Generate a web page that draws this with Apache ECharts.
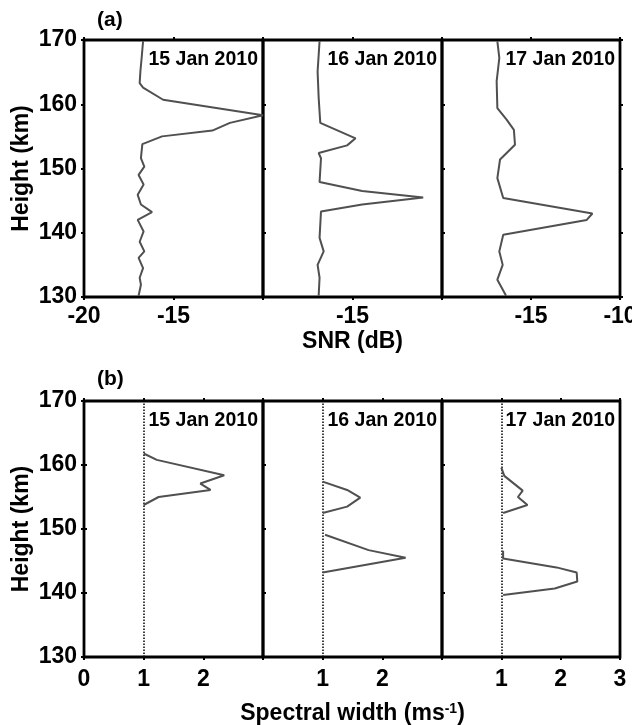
<!DOCTYPE html>
<html>
<head>
<meta charset="utf-8">
<title>SNR and spectral width profiles</title>
<script src="https://cdn.jsdelivr.net/npm/echarts@6/dist/echarts.min.js"></script>
<style>
  html, body { margin: 0; padding: 0; background: #fff; }
  #chart { width: 632px; height: 725px; }
</style>
</head>
<body>
<div id="chart"></div>
<script>
// Radar echo profiles for three nights: SNR (a) and spectral width (b) versus height.
const days = ['15 Jan 2010', '16 Jan 2010', '17 Jan 2010'];

// Height axis (km)
const heightMin = 130;
const heightMax = 170;
const heightStep = 10;

// SNR axis (dB), repeated in each panel, and the tick labels each panel shows
const snrMin = -20;
const snrMax = -10;
const snrStep = 5;
const snrTickLabels = [['-20', '-15'], ['-15'], ['-15', '-10']];

// Spectral width axis (m/s), repeated in each panel, and the tick labels each panel shows
const swMin = 0;
const swMax = 3;
const swStep = 1;
const swTickLabels = [['0', '1', '2'], ['1', '2'], ['1', '2', '3']];
const swReference = 1;

// SNR profiles (dB) against height (km)
const snrHeight15 = [169.8, 167.2, 165.1, 163.3, 162.6, 160.7, 158.3, 157.1, 155.9, 155.0, 153.8, 151.6, 150.3, 149.0, 147.5, 145.9, 144.4, 143.2, 142.0, 140.2, 138.6, 137.1, 136.1, 134.5, 133.0, 131.9, 130.2];
const snrValue15  = [-16.70, -16.78, -16.85, -16.89, -16.70, -15.58, -10.0, -11.85, -12.83, -15.64, -16.74, -16.82, -16.63, -16.95, -16.67, -17.0, -16.82, -16.2, -17.0, -16.67, -16.89, -16.63, -16.95, -16.70, -16.89, -16.82, -16.95];

const snrHeight16 = [169.8, 165.1, 161.0, 157.1, 154.7, 153.6, 152.4, 151.6, 147.9, 146.5, 145.5, 144.4, 143.3, 139.2, 137.1, 135.0, 133.0, 130.2];
const snrValue16  = [-16.84, -16.95, -16.89, -16.80, -14.83, -15.30, -16.89, -16.76, -16.84, -14.46, -11.05, -14.46, -16.76, -16.84, -16.61, -16.95, -16.84, -16.89];

const snrHeight17 = [169.8, 167.2, 163.6, 159.4, 157.6, 156.0, 153.7, 151.4, 148.5, 145.4, 143.0, 142.0, 139.7, 137.1, 135.0, 132.7, 130.2];
const snrValue17  = [-16.89, -16.78, -16.93, -16.89, -16.37, -15.96, -15.90, -16.74, -16.89, -16.56, -11.55, -11.87, -16.56, -16.78, -16.59, -16.89, -16.40];

// Spectral width profiles (m/s) against height (km); null leaves a gap
const swHeight15 = [161.8, 160.8, 158.4, 157.1, 156.1, 155.0, 153.75];
const swValue15  = [1.0, 1.22, 2.35, 1.95, 2.12, 1.25, 1.0];

const swHeight16 = [157.4, 156.1, 154.9, 153.5, 152.5, 150.8, 149.1, 146.7, 145.5, 143.2];
const swValue16  = [1.0, 1.41, 1.63, 1.41, 1.0, null, 1.04, 1.77, 2.39, 1.0];

const swHeight17 = [159.6, 158.3, 156.0, 155.0, 153.75, 152.5, 149.5, 146.6, 145.4, 144.0, 143.2, 141.8, 140.7, 139.7];
const swValue17  = [1.0, 1.05, 1.36, 1.28, 1.44, 1.03, null, 1.03, 1.03, 1.93, 2.27, 2.28, 1.90, 1.03];

const snrProfiles = [[snrHeight15, snrValue15], [snrHeight16, snrValue16], [snrHeight17, snrValue17]];
const swProfiles  = [[swHeight15, swValue15], [swHeight16, swValue16], [swHeight17, swValue17]];

// Layout
const FONT = '"Liberation Sans", Arial, Helvetica, sans-serif';
const panelLeft = 84;
const panelWidth = 179;
const lastPanelWidth = 178;
const rowTop = [40, 401];
const rowHeight = [257, 256];
const curveColor = '#505050';
const labelSize = 23;

function pairs(heights, values) {
  return heights.map((h, i) => (values[i] === null ? ['-', h] : [values[i], h]));
}

const grids = [];
const xAxes = [];
const yAxes = [];
const series = [];
const graphics = [];

const rows = [
  { profiles: snrProfiles, min: snrMin, max: snrMax, step: snrStep, labels: snrTickLabels, name: 'SNR (dB)', nameGap: 33, labelMargin: 8, refLine: false },
  { profiles: swProfiles, min: swMin, max: swMax, step: swStep, labels: swTickLabels, name: 'Spectral width (ms{sup|-1})', nameGap: 45, labelMargin: 11, refLine: true }
];

rows.forEach((row, r) => {
  for (let p = 0; p < 3; p++) {
    const g = r * 3 + p;
    const left = panelLeft + p * panelWidth;
    const width = p === 2 ? lastPanelWidth : panelWidth;
    grids.push({
      left: left, top: rowTop[r], width: width, height: rowHeight[r],
      outerBoundsMode: 'none', containLabel: false,
      show: true, borderColor: '#000', borderWidth: 2.8, backgroundColor: 'transparent'
    });
    const shown = row.labels[p];
    // bottom x axis with labels
    xAxes.push({
      type: 'value', gridIndex: g, position: 'bottom',
      min: row.min, max: row.max, interval: row.step,
      axisLine: { show: false },
      axisTick: { show: true, inside: false, length: 3, lineStyle: { color: '#000', width: 2 } },
      splitLine: { show: false },
      axisLabel: {
        show: true, margin: row.labelMargin,
        color: '#000', fontFamily: FONT, fontWeight: 'bold', fontSize: labelSize,
        formatter: (v) => (shown.indexOf(String(v)) >= 0 ? String(v) : '')
      },
      name: p === 1 ? row.name : '',
      nameLocation: 'middle', nameGap: row.nameGap,
      nameTextStyle: {
        color: '#000', fontFamily: FONT, fontWeight: 'bold', fontSize: labelSize,
        rich: { sup: { fontSize: 14, fontWeight: 'bold', fontFamily: FONT, color: '#000', verticalAlign: 'top', padding: [0, 0, 10, 0] } }
      }
    });
    // top x axis, ticks only
    xAxes.push({
      type: 'value', gridIndex: g, position: 'top',
      min: row.min, max: row.max, interval: row.step,
      axisLine: { show: false },
      axisTick: { show: true, inside: false, length: 3, lineStyle: { color: '#000', width: 2 } },
      splitLine: { show: false }, axisLabel: { show: false }
    });
    // left y axis
    yAxes.push({
      type: 'value', gridIndex: g, position: 'left',
      min: heightMin, max: heightMax, interval: heightStep,
      axisLine: { show: false },
      axisTick: { show: p === 0, inside: false, length: 3, lineStyle: { color: '#000', width: 2 } },
      splitLine: { show: false },
      axisLabel: { show: p === 0, margin: 7, color: '#000', fontFamily: FONT, fontWeight: 'bold', fontSize: labelSize },
      name: p === 0 ? 'Height (km)' : '',
      nameLocation: 'middle', nameGap: 51, nameRotate: 90,
      nameTextStyle: { color: '#000', fontFamily: FONT, fontWeight: 'bold', fontSize: labelSize }
    });
    // right y axis, ticks only
    yAxes.push({
      type: 'value', gridIndex: g, position: 'right',
      min: heightMin, max: heightMax, interval: heightStep,
      axisLine: { show: false },
      axisTick: { show: true, inside: false, length: 3, lineStyle: { color: '#000', width: 2 } },
      splitLine: { show: false }, axisLabel: { show: false }
    });

    const [hs, vs] = row.profiles[p];
    const s = {
      type: 'line', xAxisIndex: g * 2, yAxisIndex: g * 2,
      data: pairs(hs, vs),
      showSymbol: false, symbol: 'none', connectNulls: false, clip: true,
      lineStyle: { color: curveColor, width: 2 },
      silent: true, z: 3
    };
    if (row.refLine) {
      s.markLine = {
        silent: true, symbol: ['none', 'none'], label: { show: false },
        lineStyle: { color: '#000', width: 1.5, type: 'dotted' },
        data: [{ xAxis: swReference }], z: 2
      };
    }
    series.push(s);

    // date tag in the upper right corner of each panel
    graphics.push({
      type: 'text', right: 632 - (left + width) + 5, top: rowTop[r] + 10,
      style: { text: days[p], fill: '#000', font: 'bold 19.5px ' + FONT }
    });
  }
});

graphics.push({ type: 'text', left: 97, top: 10, style: { text: '(a)', fill: '#000', font: 'bold 21px ' + FONT } });
graphics.push({ type: 'text', left: 97, top: 369, style: { text: '(b)', fill: '#000', font: 'bold 21px ' + FONT } });

const chart = echarts.init(document.getElementById('chart'), null, { renderer: 'canvas' });
chart.setOption({
  animation: false,
  backgroundColor: '#fff',
  grid: grids,
  xAxis: xAxes,
  yAxis: yAxes,
  series: series,
  graphic: graphics
});
</script>
</body>
</html>
